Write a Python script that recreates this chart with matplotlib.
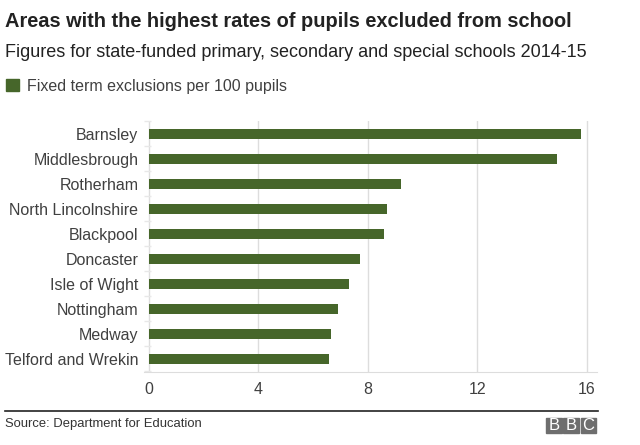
import matplotlib
matplotlib.use("Agg")
import matplotlib.pyplot as plt
from matplotlib.patches import Rectangle
from matplotlib.lines import Line2D

plt.rcParams['font.family'] = ['Liberation Sans', 'DejaVu Sans']

categories = ["Barnsley", "Middlesbrough", "Rotherham", "North Lincolnshire", "Blackpool",
              "Doncaster", "Isle of Wight", "Nottingham", "Medway", "Telford and Wrekin"]
values = [15.8, 14.9, 9.2, 8.7, 8.6, 7.7, 7.3, 6.9, 6.65, 6.6]
xticks = [0, 4, 8, 12, 16]
bar_color = "#46662a"

fig = plt.figure(figsize=(6.4, 4.45), dpi=100)
W, H = 640, 445

ax = fig.add_axes([144 / W, 1 - 372 / H, (597 - 144) / W, (372 - 121) / H])
y = list(range(len(categories)))
ax.barh(y, values, height=0.4, color=bar_color, zorder=3)
ax.set_ylim(len(categories) - 0.5 + 0.02, -0.5)
ax.set_xlim(-0.18, 16.38)
ax.set_xticks(xticks)
ax.set_xticklabels([str(t) for t in xticks])
ax.set_yticks(y)
ax.set_yticklabels(categories)
ax.set_yticks([i + 0.5 for i in range(-1, len(categories))], minor=True)
ax.tick_params(axis='y', which='major', length=0, pad=4, labelsize=11.5, labelcolor="#404040")
ax.tick_params(axis='y', which='minor', length=5, direction='in', color="#e8e8e8", width=1)
ax.tick_params(axis='x', length=0, pad=7, labelsize=11.5, labelcolor="#404040")
ax.grid(axis='x', color="#dddddd", linewidth=1, zorder=0)
for s in ['top', 'right', 'left']:
    ax.spines[s].set_visible(False)
ax.spines['bottom'].set_color("#dddddd")

fig.text(5 / W, 1 - 27 / H, "Areas with the highest rates of pupils excluded from school",
         fontsize=14.4, fontweight='bold', color="#222222", va='baseline')
fig.text(5 / W, 1 - 57 / H, "Figures for state-funded primary, secondary and special schools 2014-15",
         fontsize=13, color="#222222", va='baseline')
fig.patches.append(Rectangle((6 / W, 1 - 91 / H), 13 / W, 12 / H, transform=fig.transFigure,
                             color=bar_color))
fig.text(27 / W, 1 - 91 / H, "Fixed term exclusions per 100 pupils",
         fontsize=11.5, color="#404040", va='baseline')

fig.lines.append(Line2D([5 / W, 598 / W], [1 - 411 / H, 1 - 411 / H], transform=fig.transFigure,
                        color="#222222", linewidth=1.2))
fig.text(5 / W, 1 - 427 / H, "Source: Department for Education",
         fontsize=9.4, color="#333333", va='baseline')

for i, letter in enumerate("BBC"):
    x0 = 546 + i * 17.3
    fig.patches.append(Rectangle((x0 / W, 1 - 433 / H), 15.5 / W, 15 / H,
                                 transform=fig.transFigure, color="#6e6e6e"))
    fig.text((x0 + 7.75) / W, 1 - 425.5 / H, letter, fontsize=12, color="white",
             ha='center', va='center')

fig.savefig("out.png", dpi=100, facecolor="white")
